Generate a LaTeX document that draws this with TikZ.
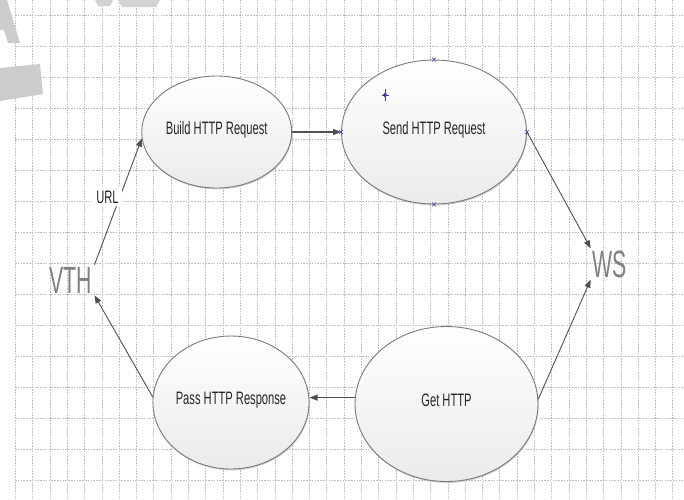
\documentclass[tikz,border=0pt]{standalone}
\usepackage{fontspec}
\setmainfont{Liberation Sans}
\usepackage{graphicx}
\usetikzlibrary{shapes.geometric,arrows.meta,shadows}

\definecolor{linegray}{HTML}{505050}
\definecolor{rimgray}{HTML}{7A7A7A}
\definecolor{handleblue}{HTML}{3A3AA8}
\newcommand{\narrowtxt}[1]{\scalebox{0.62}[1]{#1}}
\newcommand{\bigtxt}[1]{\scalebox{0.56}[1]{#1}}

\begin{document}
\begin{tikzpicture}[x=1pt,y=-1pt,
    usecase/.style={ellipse,draw=rimgray,line width=0.9pt,top color=white,bottom color=gray!16,
      drop shadow={shadow xshift=0.6pt,shadow yshift=-1.4pt,opacity=0.35},inner sep=0pt,
      text height=13pt,text depth=9pt,font=\fontsize{18}{20}\selectfont,text=black!85},
    arr/.style={draw=linegray,line width=0.9pt,-{Triangle[length=8pt,width=6pt]}},
    gridline/.style={gray!50,line width=0.6pt,dash pattern=on 1.6pt off 1.2pt},
    actor/.style={font=\fontsize{38}{40}\selectfont,text=black!50,inner sep=2pt},
    handle/.style={handleblue,line width=0.6pt}]

    \useasboundingbox (0,0) rectangle (684,499);
    \fill[white] (0,0) rectangle (684,499);

    % grid
    \foreach \i in {0,...,38}
        \draw[gridline] ({15.3+17.3*\i},0) -- ({15.3+17.3*\i},499);
    \foreach \j in {0,...,15}
        \draw[gridline] (15,{15+31*\j}) -- (684,{15+31*\j});

    % watermark scraps
    \fill[gray!40] (0,0) -- (7,0) -- (20,43) -- (8,43) -- (4,30) -- (0,30) -- cycle;
    \fill[gray!40] (0,68) -- (40,64) -- (43,94) -- (0,101) -- cycle;
    \fill[gray!35] (95,0) -- (113,0) -- (110,6) -- (98,6) -- cycle;
    \fill[gray!35] (118,0) -- (160,0) -- (156,7) -- (122,7) -- cycle;

    % use cases
    \node[usecase,minimum width=150pt,minimum height=112pt] (build) at (216.7,132) {\narrowtxt{Build HTTP Request}};
    \node[usecase,minimum width=185pt,minimum height=144pt] (send) at (434,132) {\narrowtxt{Send HTTP Request}};
    \node[usecase,minimum width=156pt,minimum height=133pt] (pass) at (231,402.5) {\narrowtxt{Pass HTTP Response}};
    \node[usecase,minimum width=183pt,minimum height=155pt] (get) at (446.5,404) {\narrowtxt{Get HTTP}};

    % actors
    \node[actor] (vth) at (71,280) {\bigtxt{VTH}};
    \node[actor] (ws) at (610,264) {\bigtxt{WS}};

    % connectors
    \draw[arr] (vth.north east) -- (build.185);
    \draw[arr,line width=1.3pt] (build) -- (send);
    \draw[arr] (send.east) -- (ws.north west);
    \draw[arr] (get.3) -- (ws.south west);
    \draw[arr,line width=1.3pt] (get.176) -- (get.176 -| pass.east);
    \draw[arr] (pass.176) -- (vth.south east);

    \node[fill=white,inner sep=3pt,font=\fontsize{18}{20}\selectfont,text=black!85] (url) at (107.5,197) {\narrowtxt{URL}};

    % selection handles
    \foreach \a in {north,south,east,west}
        \draw[handle] ([shift={(-2,-2)}]send.\a) -- ++(4,4) ([shift={(-2,2)}]send.\a) -- ++(4,-4);
    \draw[handle] (385,89) -- (385,101) (381.5,95) -- (388.5,95);
    \fill[handleblue] (385,92.5) -- (387,95) -- (385,97.5) -- (383,95) -- cycle;
\end{tikzpicture}
\end{document}
